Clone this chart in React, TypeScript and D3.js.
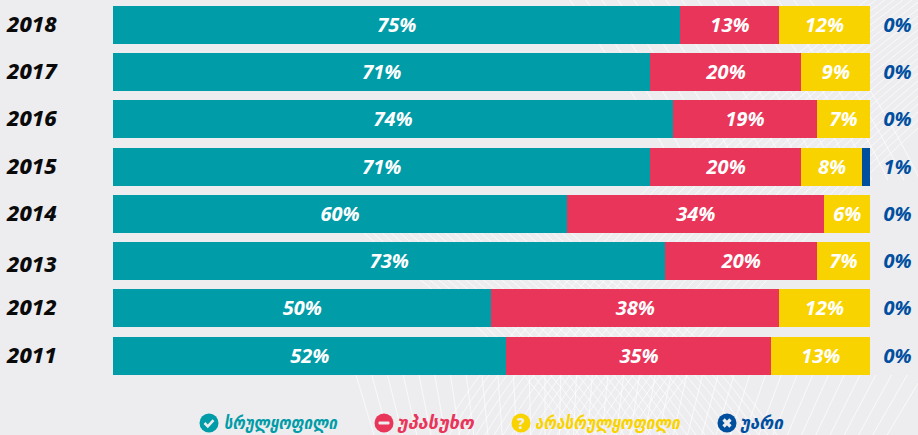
import * as d3 from 'd3';

const years = ['2018', '2017', '2016', '2015', '2014', '2013', '2012', '2011'];
const complete = [75, 71, 74, 71, 60, 73, 50, 52];
const noAnswer = [13, 20, 19, 20, 34, 20, 38, 35];
const incomplete = [12, 9, 7, 8, 6, 7, 12, 13];
const refused = [0, 0, 0, 1, 0, 0, 0, 0];

const seriesNames = ['სრულყოფილი', 'უპასუხო', 'არასრულყოფილი', 'უარი'];
const seriesColors = ['#009ca8', '#ea355b', '#f9d300', '#004f9f'];
const legendIconX = [209, 384, 521, 727];
const legendTextX = [224, 397, 535, 740];
const legendTextW = [113, 77, 145, 43];

const width = 918;
const height = 435;
const bg = '#edecef';
const font = '"Noto Sans", "DejaVu Sans", sans-serif';

const rows = years.map((year, i) => ({
  year,
  s0: complete[i],
  s1: noAnswer[i],
  s2: incomplete[i],
  s3: refused[i],
}));

const x = d3.scaleLinear().domain([0, 100]).range([113, 870]);
const y = d3.scaleBand().domain(years).range([5.9, 374.65]).paddingInner(9.25 / 47.25);
const stack = d3.stack<any>().keys(['s0', 's1', 's2', 's3'])(rows);
const px = (v: number) => Math.floor(x(v));
const rowY = (year: string) => Math.round(y(year)!);
// the 2013 label sits a little low in the original
const labelNudge = (year: string) => (year === '2013' ? 4 : 0);

// faint web of white lines behind the bars
const curve = d3.line().curve(d3.curveBasis);
const webLines: string[] = [];
d3.range(365, 915, 15).forEach((x0) => {
  const lean = (x0 - 545) * 0.05;
  webLines.push(curve([[x0 - lean, 435], [x0, 405], [x0 + lean, 375]])!);
});
d3.range(0, 24).forEach((i) => {
  const x0 = 440 + i * 9;
  webLines.push(curve([[x0, 435], [x0 + 60, 340], [x0 + 270, 120], [x0 + 440, -10]])!);
  webLines.push(curve([[x0 + 130, 435], [x0 + 60, 340], [x0 - 60, 250], [x0 - 110, 200]])!);
});
d3.range(0, 16).forEach((i) => {
  const x0 = 680 + i * 16;
  webLines.push(curve([[x0, 180], [x0 - 30, 120], [x0 - 70, 60], [x0 - 110, 0]])!);
});

const LegendIcon = ({ i }: { i: number }) => (
  <g>
    <circle r={9.5} fill={seriesColors[i]} />
    {i === 0 && <path d="M-4.5,0 L-1.2,3.3 L4.5,-2.8" fill="none" stroke={bg} strokeWidth={2.6} />}
    {i === 1 && <rect x={-5.5} y={-1.6} width={11} height={3.2} rx={1} fill={bg} />}
    {i === 2 && (
      <text y={5.5} textAnchor="middle" fontFamily={font} fontWeight={800} fontSize={15} fill={bg}>?</text>
    )}
    {i === 3 && <path d="M-3.5,-3.5 L3.5,3.5 M3.5,-3.5 L-3.5,3.5" stroke={bg} strokeWidth={3.2} />}
  </g>
);

export default function App() {
  return (
    <div style={{ position: 'fixed', left: 0, top: 0, width, height, overflow: 'hidden' }}>
      <svg width={width} height={height} style={{ display: 'block', background: bg }}>
        <g fill="none" stroke="#fff" strokeOpacity={0.7} strokeWidth={1}>
          {webLines.map((d, i) => (
            <path key={i} d={d} />
          ))}
        </g>
        {stack.map((layer, si) => (
          <g key={si} fill={seriesColors[si]}>
            {layer.map((d, k) =>
              d[1] > d[0] ? (
                <rect
                  key={k}
                  x={px(d[0])}
                  y={rowY(years[k])}
                  width={(d[1] >= 100 ? x(100) : px(d[1])) - px(d[0])}
                  height={38}
                />
              ) : null,
            )}
          </g>
        ))}
        {stack.slice(0, 3).map((layer, si) => (
          <g key={si} fontFamily={font} fontStyle="italic" fontWeight={700} fontSize={20} fill="#fff" textAnchor="middle">
            {layer.map((d, k) => (
              <text key={k} x={(x(d[0]) + x(d[1])) / 2} y={rowY(years[k]) + 26}>
                {d[1] - d[0]}%
              </text>
            ))}
          </g>
        ))}
        <g fontFamily={font} fontStyle="italic" fontWeight={700} fontSize={20} fill="#004f9f" textAnchor="middle">
          {rows.map((d) => (
            <text key={d.year} x={897.5} y={rowY(d.year) + 26}>
              {d.s3}%
            </text>
          ))}
        </g>
        <g fontFamily={font} fontStyle="italic" fontWeight={800} fontSize={22} fill="#0a0a0a">
          {years.map((year) => (
            <text key={year} x={7} y={rowY(year) + 26 + labelNudge(year)}>
              {year}
            </text>
          ))}
        </g>
        {seriesNames.map((name, i) => (
          <g key={name}>
            <g transform={`translate(${legendIconX[i]},423)`}>
              <LegendIcon i={i} />
            </g>
            <text
              x={legendTextX[i]}
              y={429}
              textLength={legendTextW[i]}
              lengthAdjust="spacingAndGlyphs"
              fontFamily={font}
              fontStyle="italic"
              fontWeight={700}
              fontSize={17}
              fill={seriesColors[i]}
            >
              {name}
            </text>
          </g>
        ))}
      </svg>
    </div>
  );
}
